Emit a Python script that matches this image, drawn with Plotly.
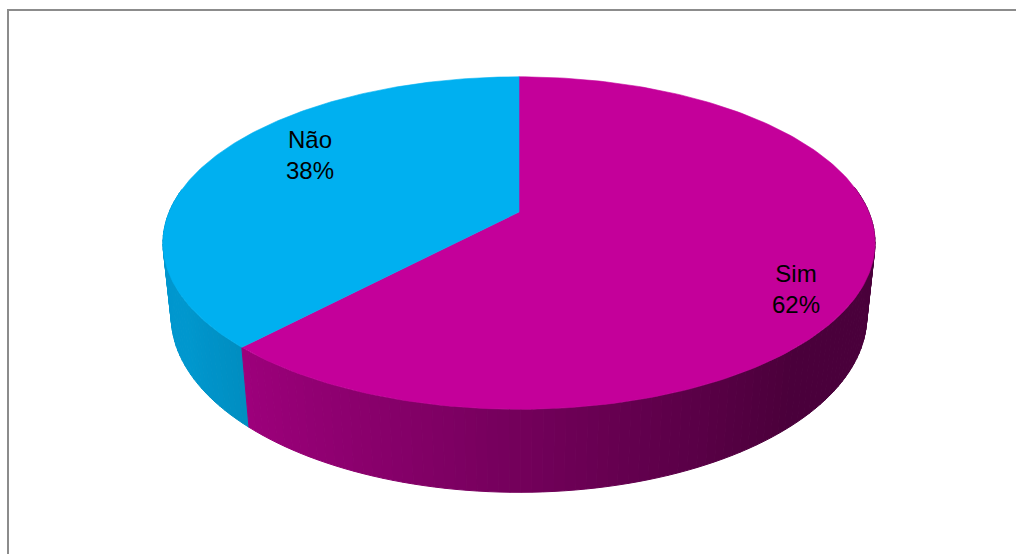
import numpy as np
import plotly.graph_objects as go

# ---- data ----
labels = ["Sim", "Não"]
values = [62, 38]
top_colors = [(196, 0, 154), (0, 176, 240)]
# label centres in page pixels
label_px = [(796, 289), (310, 155)]

# ---- 3D projection parameters (camera) ----
W, H = 1016, 554
CX, CY = 519, 212          # screen position of the pie centre
F = 1665.0
L = 4.76
ALPHA = np.radians(27.3)
S, C = np.sin(ALPHA), np.cos(ALPHA)
DEPTH = 0.238              # thickness of the pie (world units, radius = 1)


def proj(X, Z, Y=0.0):
    X = np.asarray(X, float)
    Z = np.asarray(Z, float)
    qy = Y - L * S
    qz = Z - L * C
    depth = -qy * S - qz * C
    up = qy * C - qz * S
    return F * X / depth, F * up / depth


def shade(rgb, f):
    return "rgb(%d,%d,%d)" % tuple(int(round(v * f)) for v in rgb)


def css(rgb):
    return "rgb(%d,%d,%d)" % rgb


fig = go.Figure()

total = float(sum(values))
bounds = np.concatenate([[0.0], np.cumsum(values) / total * 360.0])

# ---- side strips ----
strips = []
for i, col in enumerate(top_colors):
    a0, a1 = bounds[i], bounds[i + 1]
    n = max(2, int(np.ceil((a1 - a0) / 1.5)))
    angs = np.linspace(a0, a1, n + 1)
    for k in range(n):
        p1, p2 = np.radians(angs[k]), np.radians(angs[k + 1])
        pm = 0.5 * (p1 + p2)
        Xm, Zm = np.sin(pm), -np.cos(pm)
        if Zm < -0.15:
            continue
        xs1, ys1 = proj([np.sin(p1), np.sin(p2)], [-np.cos(p1), -np.cos(p2)], 0.0)
        xs2, ys2 = proj([np.sin(p2), np.sin(p1)], [-np.cos(p2), -np.cos(p1)], -DEPTH)
        f = float(np.clip(0.59 - 0.31 * Xm, 0.38, 0.86))
        strips.append((Zm, list(xs1) + list(xs2), list(ys1) + list(ys2), shade(col, f)))

strips.sort(key=lambda s: s[0])
for _, xs, ys, c in strips:
    fig.add_trace(go.Scatter(
        x=xs + [xs[0]], y=ys + [ys[0]], mode="lines", fill="toself",
        fillcolor=c, line=dict(color=c, width=1), hoverinfo="skip",
        showlegend=False))

# ---- top faces ----
for i, col in enumerate(top_colors):
    a0, a1 = bounds[i], bounds[i + 1]
    angs = np.radians(np.linspace(a0, a1, 200))
    X = np.concatenate([[0.0], np.sin(angs), [0.0]])
    Z = np.concatenate([[0.0], -np.cos(angs), [0.0]])
    xs, ys = proj(X, Z, 0.0)
    fig.add_trace(go.Scatter(
        x=xs, y=ys, mode="lines", fill="toself", fillcolor=css(col),
        line=dict(color=css(col), width=0.6), hoverinfo="skip",
        showlegend=False))

# ---- labels ----
for lab, v, (px, py) in zip(labels, values, label_px):
    fig.add_annotation(
        x=px - CX, y=CY - py, xref="x", yref="y",
        text=f"{lab}<br>{round(v / total * 100)}%", showarrow=False,
        font=dict(family="Liberation Sans, Arial, sans-serif", size=24, color="black"),
        align="center")

# ---- chart border ----
fig.add_shape(type="rect", xref="paper", yref="paper",
              x0=8 / W, x1=1.05, y0=-0.05, y1=1 - 10 / H,
              line=dict(color="#8c8c8c", width=2), fillcolor="rgba(0,0,0,0)")

fig.update_layout(
    width=W, height=H, autosize=False,
    margin=dict(l=0, r=0, t=0, b=0),
    paper_bgcolor="white", plot_bgcolor="white",
    xaxis=dict(range=[-CX, W - CX], visible=False, fixedrange=True),
    yaxis=dict(range=[-(H - CY), CY], visible=False, fixedrange=True),
    showlegend=False,
)

fig.write_html("out.html", config={"displayModeBar": False})
